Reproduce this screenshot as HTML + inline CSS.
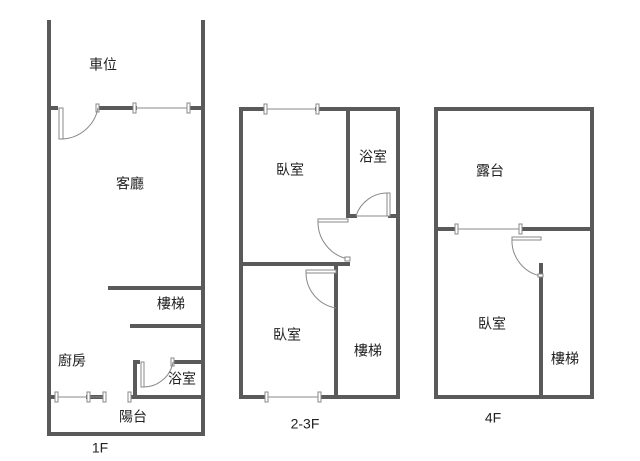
<!DOCTYPE html>
<html><head><meta charset="utf-8"><style>
html,body{margin:0;padding:0;background:#fff;}
svg{display:block}
text{font-family:"Liberation Sans","Noto Sans CJK TC",sans-serif;font-size:14px;fill:#222;text-anchor:middle;dominant-baseline:middle}
</style></head><body>
<svg width="640" height="461" viewBox="0 0 640 461">
<g stroke="#5a5a5a" stroke-width="4" fill="none" stroke-linecap="square">
<!-- 1F -->
<path d="M49 22V434H203V22"/>
<path d="M49 108H56M98 108H135M189 108H203"/>
<path d="M110 288H203M132 326H203"/>
<path d="M135 397V362H138M173 362H203"/>
<path d="M49 397H55M88 397H104M132 397H203"/>
<!-- 2-3F -->
<path d="M241 109H265M317 109H398V397H320M266 397H241V109"/>
<path d="M348 109V216H355M390 216H398"/>
<path d="M241 264H348"/>
<path d="M336 268V397"/>
<!-- 4F -->
<path d="M436 109H592V397H436Z"/>
<path d="M436 229H455M521 229H592"/>
<path d="M541 265V397"/>
</g>
<g stroke="#888" stroke-width="1" fill="#fff">
<!-- windows -->
<line x1="135" y1="108" x2="189" y2="108"/>
<rect x="133" y="103" width="3" height="10"/><rect x="187" y="103" width="3" height="10"/>
<line x1="57" y1="397" x2="88" y2="397"/><line x1="88" y1="397" x2="104" y2="397"/>
<rect x="55" y="392" width="3" height="10"/><rect x="87" y="392" width="3" height="10"/><rect x="103" y="392" width="3" height="10"/><rect x="128" y="392" width="3" height="10"/>
<line x1="265" y1="109" x2="317" y2="109"/>
<rect x="264" y="104" width="3" height="10"/><rect x="316" y="104" width="3" height="10"/>
<line x1="266" y1="397" x2="320" y2="397"/>
<rect x="265" y="392" width="3" height="10"/><rect x="318" y="392" width="3" height="10"/>
<line x1="455" y1="229" x2="521" y2="229"/>
<rect x="455" y="224" width="3" height="10"/><rect x="519" y="224" width="3" height="10"/>
<line x1="356" y1="216" x2="390" y2="216"/>
<!-- doors -->
<rect x="59" y="108" width="4" height="31"/><rect x="96" y="104" width="3" height="8"/>
<path d="M61 139A38 38 0 0 0 98 108" fill="none"/>
<rect x="141" y="362" width="3" height="25"/><rect x="171" y="358" width="3" height="8"/>
<path d="M143 387A30 30 0 0 0 173 362" fill="none"/>
<rect x="387" y="193" width="3" height="23"/>
<path d="M388 193A33 33 0 0 0 356 216" fill="none"/>
<rect x="318" y="219" width="30" height="3"/>
<path d="M318 221A38 38 0 0 0 348 259" fill="none"/>
<rect x="345" y="257" width="5" height="4"/>
<rect x="306" y="270" width="30" height="3"/>
<path d="M306 272A36 36 0 0 0 336 308" fill="none"/>
<rect x="512" y="237" width="29" height="3"/>
<path d="M512 239A36 36 0 0 0 541 276" fill="none"/>
<rect x="538" y="274" width="5" height="3"/>
</g>
<text x="103" y="66">車位</text>
<text x="130" y="185">客廳</text>
<text x="171" y="305">樓梯</text>
<text x="72" y="362">廚房</text>
<text x="182" y="380">浴室</text>
<text x="133" y="418">陽台</text>
<text x="100" y="449">1F</text>
<text x="290" y="171">臥室</text>
<text x="373" y="158">浴室</text>
<text x="287" y="336">臥室</text>
<text x="368" y="352">樓梯</text>
<text x="305" y="425">2-3F</text>
<text x="490" y="172">露台</text>
<text x="492" y="325">臥室</text>
<text x="565" y="360">樓梯</text>
<text x="493" y="419">4F</text>
</svg>
</body></html>
